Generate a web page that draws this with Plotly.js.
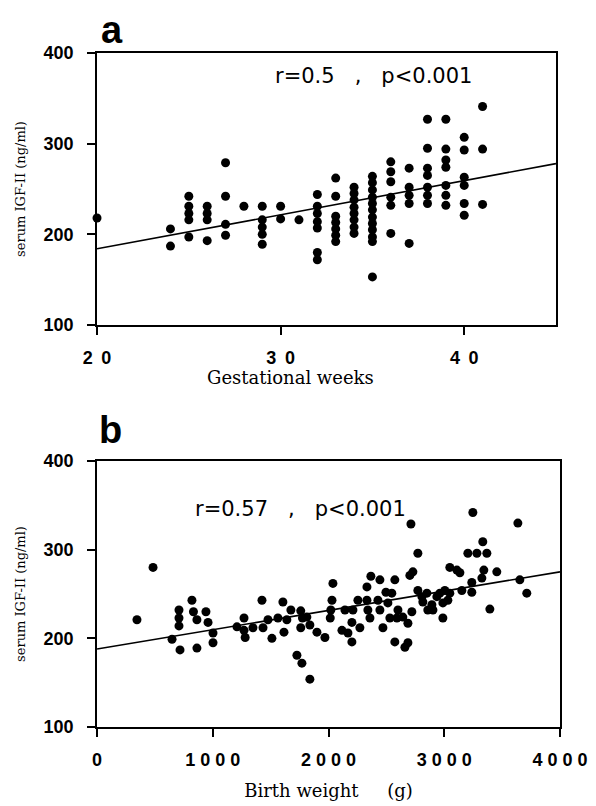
<!DOCTYPE html>
<html>
<head>
<meta charset="utf-8">
<script src="https://cdn.plot.ly/plotly-3.0.1.min.js"></script>
<style>html,body{margin:0;padding:0;background:#fff;}#chart{width:596px;height:806px;}</style>
</head>
<body>
<div id="chart"></div>
<script>
// Panel a: gestational weeks vs serum IGF-II
var weeksA = [20,24,24,25,25,25,25,25,26,26,26,26,27,27,27,27,28,29,29,29,29,29,30,30,31,
  32,32,32,32,32,32,32,33,33,33,33,33,33,33,34,34,34,34,34,34,34,34,
  35,35,35,35,35,35,35,35,35,35,35,35,36,36,36,36,36,36,37,37,37,37,37,
  38,38,38,38,38,38,38,39,39,39,39,39,39,39,40,40,40,40,40,40,41,41,41];
var igfA = [218,206,187,242,231,223,216,197,231,223,216,193,279,242,211,199,231,231,216,208,200,189,231,217,216,
  244,231,223,214,207,180,172,262,242,220,213,206,199,192,252,245,238,230,223,216,208,201,
  264,257,249,241,234,227,219,212,205,197,192,153,280,269,258,241,232,201,273,252,243,234,190,
  327,295,273,265,252,243,234,327,294,282,274,254,243,232,307,293,263,254,234,221,341,294,233];
var fitA_x = [20,45];
var fitA_y = [184,278];

// Panel b: birth weight vs serum IGF-II
var bwB = [345,484,648,708,708,708,717,820,833,863,863,941,959,1002,1002,1209,1270,1270,1280,1347,
  1425,1434,1477,1511,1563,1606,1615,1640,1675,1727,1770,1760,1775,1760,1839,1813,1839,1900,1969,
  2030,2020,2015,2038,2116,2168,2202,2202,2271,2142,2211,2254,2332,2340,2332,2366,2444,2496,2547,2573,
  2358,2427,2444,2470,2513,2530,2591,2600,2642,2686,2720,2573,2660,2686,2703,2729,2772,2712,
  2772,2807,2815,2850,2858,2893,2902,2936,2962,2988,3005,3031,3048,2988,
  3048,3109,3135,3152,3238,3238,3204,3282,3333,3368,3247,3325,3342,3454,3394,3636,3653,3713];
var igfB = [221,280,199,232,223,214,187,243,230,221,189,230,218,206,195,213,223,209,201,212,
  243,212,221,200,223,241,207,221,232,181,172,231,223,212,154,224,215,207,201,
  243,232,223,262,209,206,196,218,212,232,232,243,243,232,258,270,266,252,251,266,
  223,243,232,212,240,223,223,232,224,217,230,196,190,195,271,275,296,329,
  254,247,241,251,232,238,232,247,251,240,254,243,251,223,
  280,277,274,254,263,252,296,296,309,296,342,268,277,275,233,330,266,251];
var fitB_x = [0,4000];
var fitB_y = [188,275];

var ticksA = [20,30,40];
var tickTextA = ["2\u00a0\u20090","3\u00a0\u20090","4\u00a0\u20090"];
var ticksB = [0,1000,2000,3000,4000];
var tickTextB = ["0","1\u00a00\u00a00\u00a00","2\u00a00\u00a00\u00a00","3\u00a00\u00a00\u00a00","4\u00a00\u00a00\u00a00"];
var ticksY = [100,200,300,400];

var mk = {color:'#000', size:9};
var traces = [
  {x:weeksA, y:igfA, type:'scatter', mode:'markers', marker:mk, xaxis:'x', yaxis:'y', cliponaxis:false},
  {x:fitA_x, y:fitA_y, type:'scatter', mode:'lines', line:{color:'#000', width:1.6}, xaxis:'x', yaxis:'y'},
  {x:bwB, y:igfB, type:'scatter', mode:'markers', marker:mk, xaxis:'x2', yaxis:'y2', cliponaxis:false},
  {x:fitB_x, y:fitB_y, type:'scatter', mode:'lines', line:{color:'#000', width:1.6}, xaxis:'x2', yaxis:'y2'}
];

var serif = 'DejaVu Serif, serif';
var tickFont = {family:'Liberation Sans, Arial, sans-serif', size:18, color:'#000', weight:'bold'};
function xax(domain, range, tv, tt, title, standoff, anchor){
  return {domain:domain, range:range, tickvals:tv, ticktext:tt, ticks:'outside', ticklen:8, tickwidth:2,
    tickcolor:'#000', showline:true, linewidth:2, linecolor:'#000', mirror:true, showgrid:false,
    zeroline:false, tickfont:tickFont, ticklabelstandoff:7, anchor:anchor, fixedrange:true,
    title:{text:title, font:{family:serif, size:18, color:'#000'}, standoff:standoff}};
}
function yax(domain, anchor){
  return {domain:domain, range:[100,400], tickvals:ticksY, ticks:'outside', ticklen:8, tickwidth:2,
    tickcolor:'#000', showline:true, linewidth:2, linecolor:'#000', mirror:true, showgrid:false,
    zeroline:false, tickfont:tickFont, ticklabelstandoff:10, anchor:anchor, fixedrange:true,
    title:{text:'serum IGF-II (ng/ml)', font:{family:serif, size:13, color:'#000'}, standoff:15}};
}

var annFont = {family:'DejaVu Sans, sans-serif', size:21, color:'#000'};
var layout = {
  width:596, height:806, margin:{l:0,r:0,t:0,b:0}, paper_bgcolor:'#fff', plot_bgcolor:'#fff',
  showlegend:false,
  xaxis: xax([0.1628,0.9329],[20,45],ticksA,tickTextA,'',0,'y'),
  yaxis: yax([0.5968,0.9342],'x'),
  xaxis2: xax([0.1628,0.9396],[0,4000],ticksB,tickTextB,'Birth weight\u00a0\u00a0\u00a0\u00a0\u00a0(g)',16,'y2'),
  yaxis2: yax([0.098,0.428],'x2'),
  annotations:[
    {text:'Gestational weeks', xref:'paper', yref:'paper', x:290/596, y:1-377/806, xanchor:'center', yanchor:'middle', showarrow:false,
      font:{family:serif, size:18, color:'#000'}},
    {text:'<b>a</b>', xref:'paper', yref:'paper', x:112/596, y:1-30/806, xanchor:'center', yanchor:'middle', showarrow:false,
      font:{family:'Liberation Sans, Arial, sans-serif', size:38, color:'#000'}},
    {text:'<b>b</b>', xref:'paper', yref:'paper', x:110/596, y:1-430/806, xanchor:'center', yanchor:'middle', showarrow:false,
      font:{family:'Liberation Sans, Arial, sans-serif', size:38, color:'#000'}},
    {text:'r=0.5\u00a0\u00a0\u00a0,\u00a0\u00a0\u00a0p<0.001', xref:'x', yref:'y', x:29.6, y:375, xanchor:'left', yanchor:'middle', showarrow:false, font:annFont},
    {text:'r=0.57\u00a0\u00a0\u00a0,\u00a0\u00a0\u00a0p<0.001', xref:'x2', yref:'y2', x:829, y:346, xanchor:'left', yanchor:'middle', showarrow:false, font:annFont}
  ]
};
Plotly.newPlot('chart', traces, layout, {staticPlot:true, displayModeBar:false});
</script>
</body>
</html>
